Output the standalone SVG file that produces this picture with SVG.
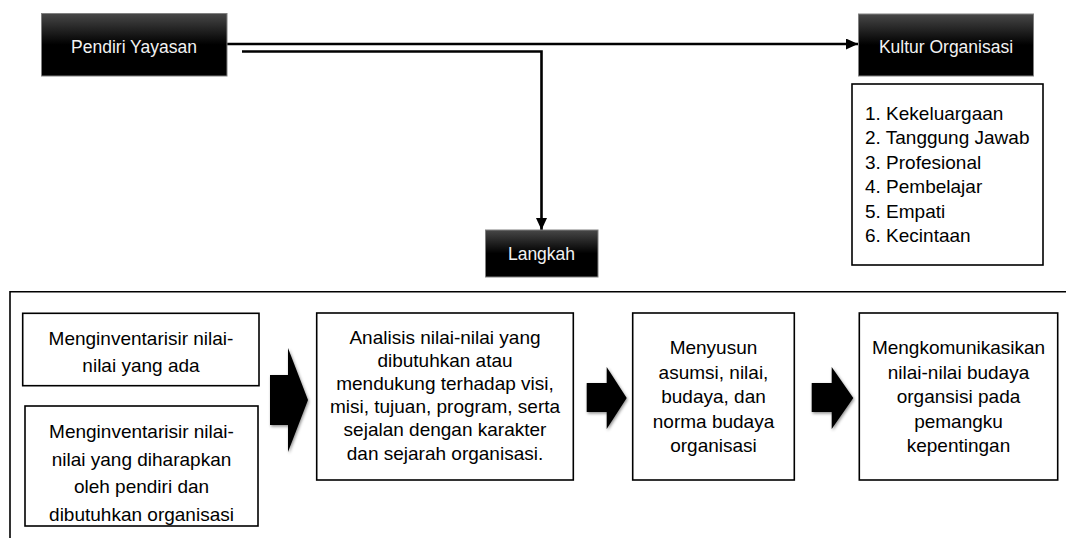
<svg xmlns="http://www.w3.org/2000/svg" width="1066" height="538" viewBox="0 0 1066 538">
<style>
text{font-family:"Liberation Sans",Arial,sans-serif;font-size:19px;fill:#000}
.hd{font-size:17.5px;fill:#f2f2f2;text-anchor:middle}
.c{text-anchor:middle}
.blk{fill:url(#g);stroke:#808080;stroke-width:1}
.wb{fill:#fff;stroke:#000;stroke-width:1.6}
.ln{fill:none;stroke:#000;stroke-width:2.6}
.ba{fill:#000;filter:url(#sh)}
</style>
<defs>
<linearGradient id="g" x1="0" y1="0" x2="0" y2="1">
<stop offset="0" stop-color="#474747"/>
<stop offset="0.5" stop-color="#000"/>
<stop offset="1" stop-color="#000"/>
</linearGradient>
<filter id="sh" x="-30%" y="-30%" width="160%" height="160%">
<feDropShadow dx="1" dy="1.5" stdDeviation="1.8" flood-color="#000" flood-opacity="0.45"/>
</filter>
<marker id="ah" markerUnits="userSpaceOnUse" markerWidth="13" markerHeight="11" refX="12" refY="5.5" orient="auto">
<path d="M0,0 L12,5.5 L0,11 Z" fill="#000"/>
</marker>
</defs>

<g id="connectors">
<path class="ln" d="M227,44 H858" marker-end="url(#ah)"/>
<path class="ln" d="M242,51.5 H541.5 V230" marker-end="url(#ah)"/>
</g>

<g id="pendiri">
<rect class="blk" x="41.5" y="13.5" width="185.5" height="62.5"/>
<text class="hd" x="134" y="52.5">Pendiri Yayasan</text>
</g>
<g id="kultur">
<rect class="blk" x="858.5" y="14" width="175" height="62"/>
<text class="hd" x="946" y="52.7">Kultur Organisasi</text>
</g>
<g id="langkah">
<rect class="blk" x="485.5" y="230" width="112.5" height="47"/>
<text class="hd" x="541.5" y="260">Langkah</text>
</g>
<g id="nilai-list">
<rect class="wb" x="852" y="84" width="191" height="181"/>
<text x="865" y="119.5">1. Kekeluargaan</text>
<text x="865" y="144">2. Tanggung Jawab</text>
<text x="865" y="168.5">3. Profesional</text>
<text x="865" y="193">4. Pembelajar</text>
<text x="865" y="217.5">5. Empati</text>
<text x="865" y="242">6. Kecintaan</text>
</g>

<g id="frame">
<path d="M10,538 V291.7 H1066" fill="none" stroke="#000" stroke-width="1.6"/>
</g>

<g id="step-a1">
<rect class="wb" x="22.7" y="313.3" width="236.3" height="72.4"/>
<text class="c" x="141" y="344.5">Menginventarisir nilai-</text>
<text class="c" x="141" y="372.2">nilai yang ada</text>
</g>
<g id="step-a2">
<rect class="wb" x="25" y="406" width="233" height="120"/>
<text class="c" x="141.5" y="437.7">Menginventarisir nilai-</text>
<text class="c" x="141.5" y="465.5">nilai yang diharapkan</text>
<text class="c" x="141.5" y="493.3">oleh pendiri dan</text>
<text class="c" x="141.5" y="521">dibutuhkan organisasi</text>
</g>
<g id="arrow-1">
<polygon class="ba" points="270,375 288,375 288,348 308,400 288,452 288,425 270,425"/>
</g>
<g id="step-b">
<rect class="wb" x="316.7" y="313" width="256.6" height="167"/>
<text class="c" x="445" y="343.5">Analisis nilai-nilai yang</text>
<text class="c" x="445" y="366.7">dibutuhkan atau</text>
<text class="c" x="445" y="389.9">mendukung terhadap visi,</text>
<text class="c" x="445" y="413.1">misi, tujuan, program, serta</text>
<text class="c" x="445" y="436.3">sejalan dengan karakter</text>
<text class="c" x="445" y="459.5">dan sejarah organisasi.</text>
</g>
<g id="arrow-2">
<polygon class="ba" points="586.7,383 606.7,383 606.7,367 626.7,398 606.7,429 606.7,412 586.7,412"/>
</g>
<g id="step-c">
<rect class="wb" x="632.7" y="313" width="161.6" height="167"/>
<text class="c" x="713.5" y="354">Menyusun</text>
<text class="c" x="713.5" y="378.5">asumsi, nilai,</text>
<text class="c" x="713.5" y="403">budaya, dan</text>
<text class="c" x="713.5" y="427.5">norma budaya</text>
<text class="c" x="713.5" y="452">organisasi</text>
</g>
<g id="arrow-3">
<polygon class="ba" points="811.7,383 831.7,383 831.7,367 853.3,398 831.7,429 831.7,412 811.7,412"/>
</g>
<g id="step-d">
<rect class="wb" x="859.3" y="313" width="198.4" height="167"/>
<text class="c" x="958.5" y="354">Mengkomunikasikan</text>
<text class="c" x="958.5" y="378.5">nilai-nilai budaya</text>
<text class="c" x="958.5" y="403">organsisi pada</text>
<text class="c" x="958.5" y="427.5">pemangku</text>
<text class="c" x="958.5" y="452">kepentingan</text>
</g>
</svg>
